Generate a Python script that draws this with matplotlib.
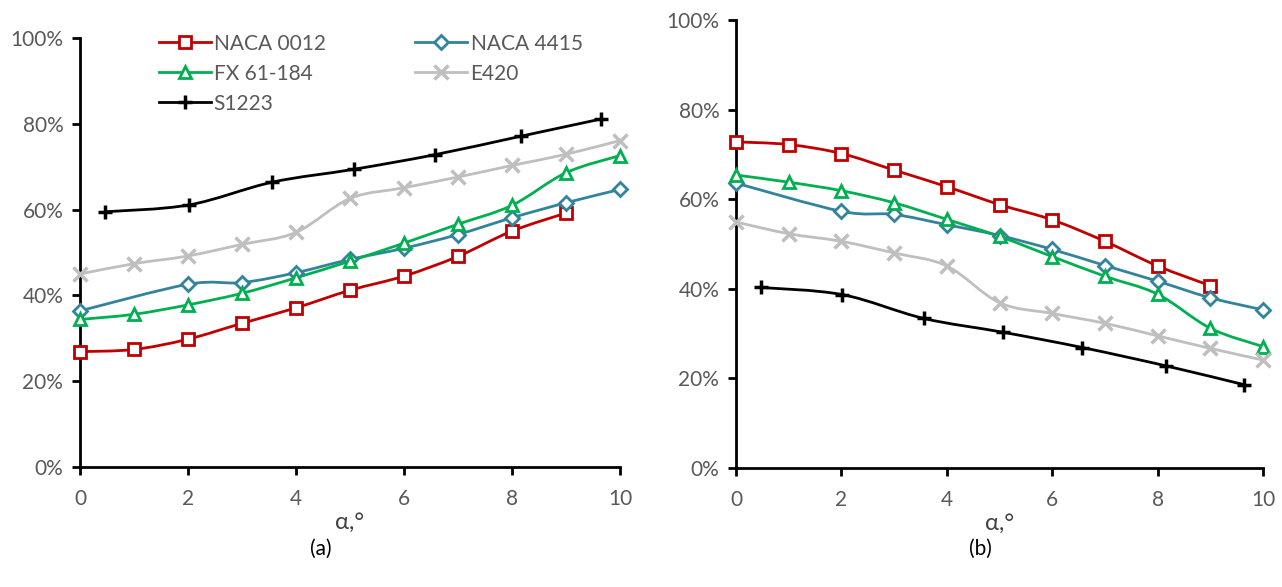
import numpy as np
import matplotlib
matplotlib.use('Agg')
import matplotlib.pyplot as plt
from matplotlib.path import Path
from matplotlib.patches import PathPatch
from matplotlib.lines import Line2D
from matplotlib.ticker import PercentFormatter

plt.rcParams['font.family'] = ['Lato', 'DejaVu Sans']

names = ['NACA 0012', 'NACA 4415', 'FX 61-184', 'E420', 'S1223']
colors = ['#C00000', '#31849B', '#00B050', '#BFBFBF', '#000000']
markers = ['s', 'D', '^', 'x', '+']

# angle of attack for each series
x_all = [0, 1, 2, 3, 4, 5, 6, 7, 8, 9, 10]
x_0012 = [0, 1, 2, 3, 4, 5, 6, 7, 8, 9]
x_4415 = [0, 2, 3, 4, 5, 6, 7, 8, 9, 10]
x_s1223 = [0.47, 2.02, 3.56, 5.07, 6.57, 8.16, 9.64]

# panel (a), percent
a_0012 = [26.9, 27.4, 29.8, 33.5, 37.1, 41.2, 44.5, 49.1, 55.0, 59.2]
a_4415 = [36.4, 42.6, 43.0, 45.3, 48.4, 51.0, 54.2, 58.1, 61.6, 64.7]
a_fx = [34.4, 35.6, 37.8, 40.5, 44.1, 48.0, 52.2, 56.6, 61.0, 68.6, 72.6]
a_e420 = [45.0, 47.4, 49.2, 51.9, 54.7, 62.6, 65.1, 67.6, 70.3, 72.9, 76.1]
a_s1223 = [59.5, 61.1, 66.4, 69.4, 72.8, 77.1, 81.1]

# panel (b), percent
b_0012 = [72.8, 72.2, 70.2, 66.5, 62.8, 58.8, 55.4, 50.6, 45.1, 40.7]
b_4415 = [63.6, 57.3, 56.6, 54.3, 51.9, 48.8, 45.2, 41.7, 38.0, 35.3]
b_fx = [65.4, 63.8, 61.9, 59.2, 55.5, 51.7, 47.2, 42.8, 38.8, 31.2, 27.1]
b_e420 = [54.9, 52.3, 50.6, 48.0, 45.1, 36.9, 34.5, 32.3, 29.5, 26.7, 24.1]
b_s1223 = [40.3, 38.7, 33.4, 30.3, 26.9, 22.8, 18.6]

xs = [x_0012, x_4415, x_all, x_all, x_s1223]
panel_a = [a_0012, a_4415, a_fx, a_e420, a_s1223]
panel_b = [b_0012, b_4415, b_fx, b_e420, b_s1223]


def smooth_path(x, y):
    # Excel-like smoothed line: Catmull-Rom segments as cubic Bezier
    p = np.column_stack([x, y]).astype(float)
    verts = [p[0]]
    codes = [Path.MOVETO]
    n = len(p)
    for i in range(n - 1):
        p0 = p[i - 1] if i > 0 else p[i]
        p1 = p[i]
        p2 = p[i + 1]
        p3 = p[i + 2] if i + 2 < n else p[i + 1]
        c1 = p1 + (p2 - p0) / 6.0
        c2 = p2 - (p3 - p1) / 6.0
        verts += [c1, c2, p2]
        codes += [Path.CURVE4] * 3
    return Path(verts, codes)


def marker_style(m, c):
    if m in ('x', '+'):
        return dict(marker=m, markeredgecolor=c, markersize=10, markeredgewidth=2.5)
    size = {'s': 8, 'D': 7, '^': 9}[m]
    return dict(marker=m, markerfacecolor='white', markeredgecolor=c,
                markersize=size, markeredgewidth=2)


fig = plt.figure(figsize=(12.82, 5.87), dpi=100)
ax_a = fig.add_axes([0.0624, 0.2044, 0.4212, 0.7308])
ax_b = fig.add_axes([0.5741, 0.2027, 0.4111, 0.7632])

for ax, data, tag, cx in [(ax_a, panel_a, '(a)', 0.25), (ax_b, panel_b, '(b)', 0.765)]:
    for x, y, c, m in zip(xs, data, colors, markers):
        ax.add_patch(PathPatch(smooth_path(x, y), facecolor='none', edgecolor=c,
                               linewidth=2, transform=ax.transData, zorder=2,
                               clip_on=False))
        ax.plot(x, y, linestyle='none', zorder=3, clip_on=False, **marker_style(m, c))
    ax.set_xlim(0, 10)
    ax.set_ylim(0, 100)
    ax.set_xticks(range(0, 11, 2))
    ax.set_yticks(range(0, 101, 20))
    ax.yaxis.set_major_formatter(PercentFormatter(decimals=0))
    for s in ['top', 'right']:
        ax.spines[s].set_visible(False)
    for s in ['left', 'bottom']:
        ax.spines[s].set_linewidth(2)
    ax.tick_params(direction='out', length=6, width=2, colors='black',
                   labelcolor='#595959', labelsize=15, pad=6)
    ax.tick_params(axis='x', pad=10)
    ax.set_xlabel('α,°', fontsize=17, color='#404040', labelpad=2)
    ax.patch.set_alpha(0)
    fig.text(cx, 0.065, tag, ha='center', va='center', fontsize=15, color='black')

handles = [Line2D([], [], color=c, linewidth=2, **marker_style(m, c))
           for c, m in zip(colors, markers)]
order = [0, 2, 4, 1, 3]
ax_a.legend([handles[i] for i in order], [names[i] for i in order], ncol=2,
            loc='upper left', bbox_to_anchor=(0.13, 1.03), frameon=False,
            fontsize=15, labelcolor='#595959', handlelength=2.5,
            columnspacing=4.3, handletextpad=0.15, labelspacing=0.48,
            borderaxespad=0)

fig.savefig('out.png', dpi=100)
